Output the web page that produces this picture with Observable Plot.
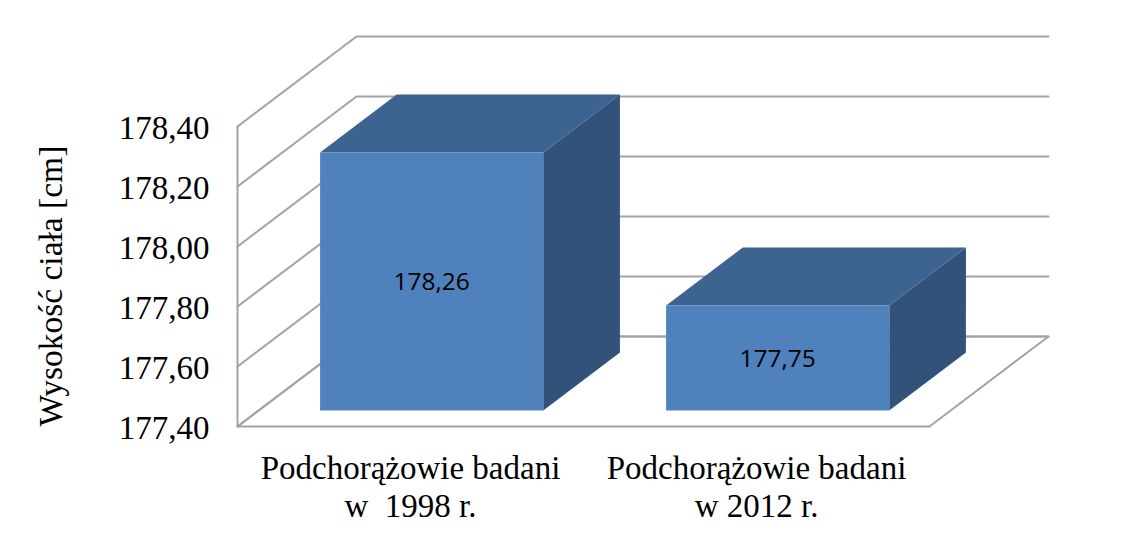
<!DOCTYPE html>
<html>
<head>
<meta charset="utf-8">
<script src="https://cdn.jsdelivr.net/npm/d3@7"></script>
<script src="https://cdn.jsdelivr.net/npm/@observablehq/plot@0.6"></script>
<style>
html,body{margin:0;padding:0;background:#fff;}
svg{display:block;}
</style>
</head>
<body>
<div id="chart"></div>
<script>
const categories = ["Podchorążowie badani\nw  1998 r.", "Podchorążowie badani\nw 2012 r."];
const values = [178.26, 177.75];
const valueLabels = ["178,26", "177,75"];
const tickValues = [177.4, 177.6, 177.8, 178.0, 178.2, 178.4];
const yMin = 177.4, yMax = 178.4;

// oblique projection of the pseudo-3D box, in data units per unit of depth
const depthX = 0.344, depthY = 0.3;
const barHalf = 0.3225, barNear = 0.178, barFar = 0.822;
const P = (id, x, y, d) => ({id, x: x + d * depthX, y: y + d * depthY});
const xMax = categories.length;
const serif = "'Liberation Serif','Times New Roman',serif";

const wallLines = [];
tickValues.forEach((t, i) => {
  wallLines.push(P("g" + i, 0, t, 0), P("g" + i, 0, t, 1), P("g" + i, xMax, t, 1));
});
const frame = [
  P("left", 0, yMin, 0), P("left", 0, yMax, 0),
];
const floor = [
  P("floor", 0, yMin, 0), P("floor", xMax, yMin, 0), P("floor", xMax, yMin, 1), P("floor", 0, yMin, 1)
];

const front = [], top_ = [], side = [];
values.forEach((v, i) => {
  const c = i + 0.5, l = c - barHalf, r = c + barHalf;
  front.push(P("f" + i, l, yMin, barNear), P("f" + i, r, yMin, barNear), P("f" + i, r, v, barNear), P("f" + i, l, v, barNear));
  top_.push(P("t" + i, l, v, barNear), P("t" + i, r, v, barNear), P("t" + i, r, v, barFar), P("t" + i, l, v, barFar));
  side.push(P("s" + i, r, yMin, barNear), P("s" + i, r, yMin, barFar), P("s" + i, r, v, barFar), P("s" + i, r, v, barNear));
});
const labels = values.map((v, i) => P("l" + i, i + 0.5, (v + yMin) / 2, barNear));
labels.forEach((d, i) => d.text = valueLabels[i]);
const catData = categories.map((c, i) => ({x: i + 0.5, text: c}));

const grey = "#a3a3a3";
const chart = Plot.plot({
  width: 1133,
  height: 547,
  marginLeft: 237,
  marginRight: 204,
  marginTop: 126,
  marginBottom: 121,
  style: {background: "#fff", overflow: "visible"},
  x: {domain: [0, xMax], axis: null},
  y: {domain: [yMin, yMax]},
  marks: [
    Plot.line(wallLines, {x: "x", y: "y", z: "id", stroke: grey, strokeWidth: 2, curve: "linear"}),
    Plot.line(floor, {x: "x", y: "y", z: "id", stroke: grey, strokeWidth: 2, fill: "none", curve: "linear-closed"}),
    Plot.line(frame, {x: "x", y: "y", z: "id", stroke: grey, strokeWidth: 2, curve: "linear"}),
    Plot.line(side, {x: "x", y: "y", z: "id", fill: "#32527a", stroke: "none", curve: "linear-closed"}),
    Plot.line(top_, {x: "x", y: "y", z: "id", fill: "#3d6391", stroke: "none", curve: "linear-closed"}),
    Plot.line(front, {x: "x", y: "y", z: "id", fill: "#4f81bd", stroke: "none", curve: "linear-closed"}),
    Plot.text(labels, {x: "x", y: "y", text: "text", dy: 1, fill: "#000", fontSize: 24.5, fontFamily: "'Open Sans','Noto Sans',sans-serif"}),
    Plot.axisY({
      ticks: tickValues,
      tickFormat: d => d3.format(".2f")(d).replace(".", ","),
      tickSize: 0,
      tickPadding: 28,
      dy: 1.5,
      fontSize: 33,
      fontFamily: serif,
      color: "#000",
      label: null
    }),
    Plot.text(["Wysokość ciała [cm]"], {
      x: () => 0, y: () => 177.868, text: d => d,
      rotate: -90, dx: -186, fontSize: 33.5, fontFamily: serif, fill: "#000"
    }),
    Plot.text(catData, {
      x: "x", y: () => yMin, text: "text", dy: 26, lineAnchor: "top",
      lineHeight: 1.15, fontSize: 33, fontFamily: serif, fill: "#000"
    })
  ]
});
document.getElementById("chart").append(chart);
</script>
</body>
</html>
